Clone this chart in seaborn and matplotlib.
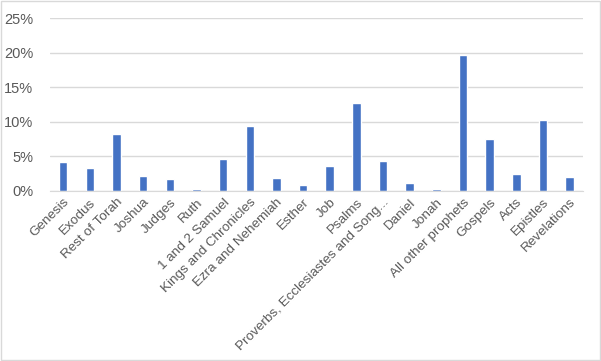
import matplotlib
matplotlib.use("Agg")
import matplotlib.pyplot as plt
import seaborn as sns
import pandas as pd
from matplotlib.ticker import PercentFormatter

# Kitaplar ve paylari (%)
kitaplar = ["Genesis", "Exodus", "Rest of Torah", "Joshua", "Judges", "Ruth",
            "1 and 2 Samuel", "Kings and Chronicles", "Ezra and Nehemiah", "Esther",
            "Job", "Psalms", "Proverbs, Ecclesiastes and Song...", "Daniel", "Jonah",
            "All other prophets", "Gospels", "Acts", "Epistles", "Revelations"]
paylar = [4.2, 3.35, 8.15, 2.05, 1.75, 0.3, 4.65, 9.45, 1.9, 0.85,
          3.55, 12.7, 4.25, 1.05, 0.3, 19.65, 7.45, 2.35, 10.2, 1.95]
y_ticks = [0, 5, 10, 15, 20, 25]

veri = pd.DataFrame({"kitap": kitaplar, "pay": paylar})

sns.set_style("white")
plt.rcParams["font.family"] = ["Liberation Sans", "DejaVu Sans"]

fig = plt.figure(figsize=(6.01, 3.61), dpi=100)
ax = fig.add_axes([0.083, 0.472, 0.887, 0.477])

sns.barplot(data=veri, x="kitap", y="pay", color="#4472C4", saturation=1,
            width=0.32, ax=ax)

ax.set_ylim(0, 25)
ax.set_yticks(y_ticks)
ax.yaxis.set_major_formatter(PercentFormatter(decimals=0))
ax.grid(axis="y", color="#D9D9D9", linewidth=1)
ax.set_axisbelow(True)
ax.set_xlabel("")
ax.set_ylabel("")
for s in ["top", "right", "left"]:
    ax.spines[s].set_visible(False)
ax.spines["bottom"].set_color("#D9D9D9")
ax.tick_params(axis="y", length=0, colors="#595959", labelsize=10.5, pad=12)
ax.tick_params(axis="x", length=0, colors="#595959", labelsize=9.7, pad=4)
plt.setp(ax.get_xticklabels(), rotation=45, ha="right", rotation_mode="anchor")

# Grafik cercevesi
fig.patches.append(plt.Rectangle((0.002, 0.003), 0.996, 0.994, transform=fig.transFigure,
                                 fill=False, edgecolor="#D9D9D9", linewidth=1))

fig.savefig("out.png", dpi=100)
